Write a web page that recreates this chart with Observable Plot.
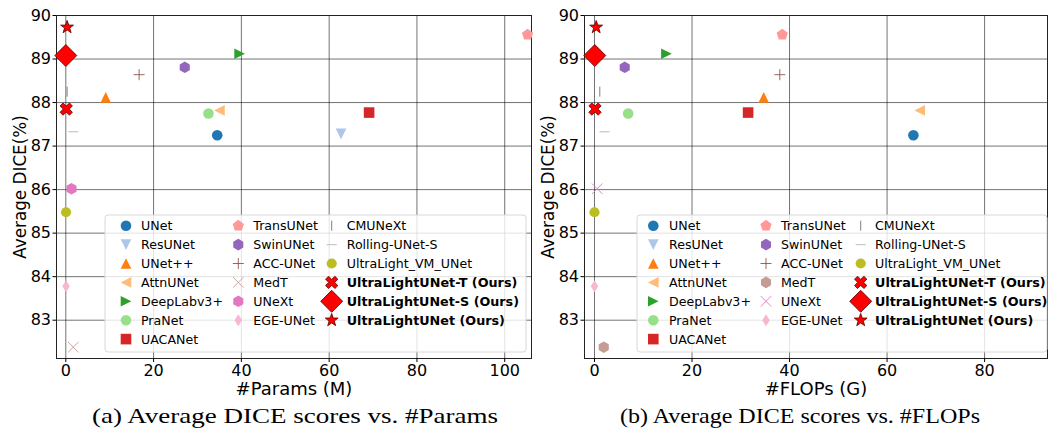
<!DOCTYPE html>
<html><head><meta charset="utf-8">
<script src="https://cdn.jsdelivr.net/npm/d3@7"></script>
<script src="https://cdn.jsdelivr.net/npm/@observablehq/plot@0.6"></script>
<style>
body{margin:0;background:#fff;width:1048px;height:429px;overflow:hidden;position:relative;font-family:"DejaVu Sans";}
.chart{position:absolute;top:0;}
.cap{position:absolute;top:406px;font-family:"Liberation Serif";font-size:21.5px;line-height:21.5px;white-space:nowrap;transform-origin:0 0;color:#000;}
</style></head><body>
<div id="a" class="chart" style="left:0"></div>
<div id="b" class="chart" style="left:528px"></div>
<div id="capA" class="cap" style="left:92px" data-w="406">(a) Average DICE scores vs. #Params</div>
<div id="capB" class="cap" style="left:620px" data-w="360">(b) Average DICE scores vs. #FLOPs</div>
<svg id="leg" width="1048" height="429" style="position:absolute;left:0;top:0;pointer-events:none"></svg>
<script>
// ---- data ----
const models = ["UNet","ResUNet","UNet++","AttnUNet","DeepLabv3+","PraNet","UACANet","TransUNet","SwinUNet","ACC-UNet","MedT","UNeXt","EGE-UNet","CMUNeXt","Rolling-UNet-S","UltraLight_VM_UNet","UltraLightUNet-T (Ours)","UltraLightUNet-S (Ours)","UltraLightUNet (Ours)"];
const paramsM = [34.5, 62.7, 9.1, 35.0, 39.6, 32.5, 69.1, 105.2, 27.1, 16.7, 1.7, 1.3, 0.05, 0.3, 1.7, 0.05, 0.1, 0.0, 0.3];
const flopsG  = [65.4, null, 34.7, 66.7, 14.75, 6.9, 31.5, 38.5, 6.2, 38.0, 1.9, 0.55, 0.0, 1.09, 2.05, 0.0, 0.1, 0.06, 0.35];
const dice    = [87.25, 87.28, 88.12, 87.82, 89.12, 87.75, 87.77, 89.56, 88.81, 88.64, 82.38, 86.02, 83.78, 88.25, 87.33, 85.48, 87.85, 89.08, 89.73];
const paramTicks = [0, 20, 40, 60, 80, 100];
const flopTicks = [0, 20, 40, 60, 80];
const diceTicks = [83, 84, 85, 86, 87, 88, 89, 90];

// ---- symbols ----
function sym(fn){ return {draw(ctx, size){ const r = Math.sqrt(size / Math.PI); fn(ctx, r); }}; }
function poly(pts){ return sym((c, r) => { pts.forEach(([x, y], i) => i ? c.lineTo(x * r, y * r) : c.moveTo(x * r, y * r)); c.closePath(); }); }
function ngon(n){ const p = []; for (let k = 0; k < n; k++){ const a = -Math.PI / 2 + 2 * Math.PI * k / n; p.push([Math.cos(a), Math.sin(a)]); } return poly(p); }
const S = {
  circle: sym((c, r) => { c.moveTo(r, 0); c.arc(0, 0, r, 0, 2 * Math.PI); }),
  triUp: poly([[0,-1],[-1,1],[1,1]]),
  triDown: poly([[0,1],[-1,-1],[1,-1]]),
  triLeft: poly([[-1,0],[1,-1],[1,1]]),
  triRight: poly([[1,0],[-1,-1],[-1,1]]),
  square: poly([[-1,-1],[1,-1],[1,1],[-1,1]]),
  pentagon: ngon(5),
  hexagon: ngon(6),
  diamond: poly([[0,-1],[1,0],[0,1],[-1,0]]),
  thinDiamond: poly([[0,-1],[0.62,0],[0,1],[-0.62,0]]),
  star: (() => { const p = []; for (let k = 0; k < 10; k++){ const a = -Math.PI / 2 + Math.PI * k / 5; const rr = k % 2 ? 0.4 : 1; p.push([rr * Math.cos(a), rr * Math.sin(a)]); } return poly(p); })(),
  xFilled: (() => { const a = 0.32; const base = [[-a,-1],[a,-1],[a,-a],[1,-a],[1,a],[a,a],[a,1],[-a,1],[-a,a],[-1,a],[-1,-a],[-a,-a]];
    const s = Math.SQRT1_2; return poly(base.map(([x, y]) => [(x - y) * s, (x + y) * s])); })(),
  plus: sym((c, r) => { c.moveTo(-r, 0); c.lineTo(r, 0); c.moveTo(0, -r); c.lineTo(0, r); }),
  times: sym((c, r) => { const q = r * 0.85; c.moveTo(-q, -q); c.lineTo(q, q); c.moveTo(-q, q); c.lineTo(q, -q); }),
  vline: sym((c, r) => { c.moveTo(0, -r); c.lineTo(0, r); }),
  hline: sym((c, r) => { c.moveTo(-r, 0); c.lineTo(r, 0); })
};

function style(name, chart){
  const F = (sy, c, r) => ({sym: sy, fill: c, stroke: "none", sw: 0, r});
  const L = (sy, c, r, sw) => ({sym: sy, fill: "none", stroke: c, sw: sw || 1, r});
  const E = (sy, r) => ({sym: sy, fill: "#ff0000", stroke: "#5a0000", sw: 0.8, r});
  switch (name){
    case "UNet": return F(S.circle, "#1f77b4", 5.3);
    case "ResUNet": return F(S.triDown, "#aec7e8", 5.3);
    case "UNet++": return F(S.triUp, "#ff7f0e", 5.3);
    case "AttnUNet": return F(S.triLeft, "#ffbb78", 5.3);
    case "DeepLabv3+": return F(S.triRight, "#2ca02c", 5.3);
    case "PraNet": return F(S.circle, "#98df8a", 5.3);
    case "UACANet": return F(S.square, "#d62728", 5.3);
    case "TransUNet": return F(S.pentagon, "#ff9896", 5.9);
    case "SwinUNet": return F(S.hexagon, "#9467bd", 5.8);
    case "ACC-UNet": return L(S.plus, "#8c564b", 5.5, 0.9);
    case "MedT": return chart === "a" ? L(S.times, "#c49c94", 6.2, 0.9) : F(S.hexagon, "#c49c94", 5.8);
    case "UNeXt": return chart === "a" ? F(S.hexagon, "#e377c2", 5.8) : L(S.times, "#e377c2", 6.2, 0.9);
    case "EGE-UNet": return F(S.thinDiamond, "#f7b6d2", 6);
    case "CMUNeXt": return L(S.vline, "#7f7f7f", 5, 1);
    case "Rolling-UNet-S": return L(S.hline, "#c7c7c7", 5, 1.2);
    case "UltraLight_VM_UNet": return F(S.circle, "#bcbd22", 5.1);
    case "UltraLightUNet-T (Ours)": return E(S.xFilled, 6.6);
    case "UltraLightUNet-S (Ours)": return E(S.diamond, 11);
    default: return E(S.star, 6.8);
  }
}

function makeChart(chart, xs, domain, ticks, xlabel, width, mr){
  const dots = models.map((m, i) => {
    if (xs[i] == null) return null;
    const s = style(m, chart);
    return Plot.dot([i], {x: j => xs[j], y: j => dice[j], symbol: s.sym, r: s.r, fill: s.fill, stroke: s.stroke, strokeWidth: s.sw});
  }).filter(Boolean);
  return Plot.plot({
    width, height: 398, marginLeft: 56, marginRight: mr, marginTop: 15, marginBottom: 40,
    style: {background: "transparent", fontFamily: "DejaVu Sans", fontSize: "15px", overflow: "visible", color: "#000"},
    x: {domain, label: null},
    y: {domain: [82.12, 90], label: null},
    marks: [
      Plot.gridX({ticks, stroke: "#000", strokeOpacity: 0.55, strokeWidth: 1}),
      Plot.gridY({ticks: diceTicks, stroke: "#000", strokeOpacity: 0.55, strokeWidth: 1}),
      Plot.frame({stroke: "#222", strokeWidth: 1}),
      Plot.axisX({ticks, tickSize: 4, tickPadding: 2, fontSize: 16, label: null}),
      Plot.axisY({ticks: diceTicks, tickSize: 3.5, tickPadding: 2, fontSize: 16, label: null}),
      Plot.text([xlabel], {text: d => d, frameAnchor: "bottom", textAnchor: "middle", lineAnchor: "middle", dy: 31, fontSize: 18}),
      Plot.text(["Average DICE(%)"], {text: d => d, frameAnchor: "left", textAnchor: "middle", lineAnchor: "middle", rotate: -90, dx: -36, fontSize: 16.8}),
      ...dots
    ]
  });
}

document.getElementById("a").append(makeChart("a", paramsM, [-2.12, 106.1], paramTicks, "#Params (M)", 534, 3));
document.getElementById("b").append(makeChart("b", flopsG, [-2.05, 92.9], flopTicks, "#FLOPs (G)", 520, 1));

// ---- legends ----
const boldWidths = {"UltraLightUNet-T (Ours)": 170.6, "UltraLightUNet-S (Ours)": 172.4, "UltraLightUNet (Ours)": 158.3};
const leg = d3.select("#leg");
function legend(chart, box, mx, tx){
  const g = leg.append("g");
  g.append("rect").attr("x", box[0]).attr("y", box[1]).attr("width", box[2]).attr("height", box[3])
    .attr("rx", 3).attr("fill", "#fff").attr("fill-opacity", 0.8).attr("stroke", "#d8d8d8");
  const cols = [[0,1,2,3,4,5,6],[7,8,9,10,11,12],[13,14,15,16,17,18]];
  cols.forEach((col, ci) => col.forEach((idx, ri) => {
    const y = 225.7 + ri * 18.9;
    const s = style(models[idx], chart);
    const p = d3.path(); s.sym.draw(p, Math.PI * s.r * s.r);
    g.append("path").attr("d", p.toString()).attr("transform", `translate(${mx[ci]},${y})`)
      .attr("fill", s.fill).attr("stroke", s.stroke).attr("stroke-width", s.sw);
    const t = g.append("text").attr("x", 0).attr("y", 0).attr("dy", "0.36em")
      .attr("font-family", "DejaVu Sans").attr("font-size", 12.6)
      .attr("font-weight", idx >= 16 ? "bold" : "normal").text(models[idx]);
    let k = 1;
    const target = boldWidths[models[idx]];
    if (target){ const w = t.node().getBBox().width; if (w > 0) k = target / w; }
    t.attr("transform", `translate(${tx[ci]},${y}) scale(${k},1)`);
  }));
}
legend("a", [105, 215, 421, 137], [126, 238.3, 331.7], [141, 253.3, 346.7]);
legend("b", [637, 215, 410, 137], [653.3, 766, 860.7], [669, 781, 875]);

// ---- captions: fit to the measured extent ----
for (const id of ["capA", "capB"]){
  const el = document.getElementById(id);
  const w = el.getBoundingClientRect().width;
  el.style.transform = `scaleX(${(+el.dataset.w) / w})`;
}
</script>
</body></html>
